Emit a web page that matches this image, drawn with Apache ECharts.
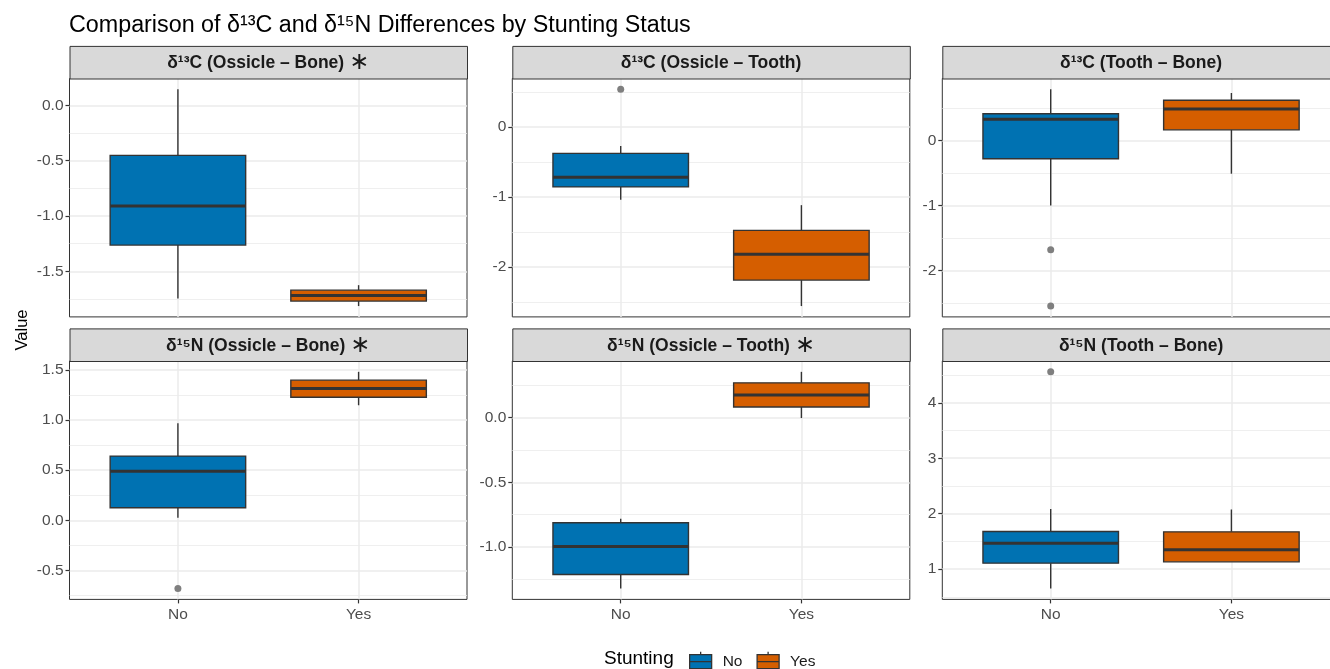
<!DOCTYPE html>
<html>
<head>
<meta charset="utf-8">
<script src="https://cdn.jsdelivr.net/npm/echarts@6/dist/echarts.min.js"></script>
<style>
html, body { margin: 0; padding: 0; background: #ffffff; }
#chart { width: 1330px; height: 669px; }
</style>
</head>
<body>
<div id="chart"></div>
<script>
// ---------------- DATA ----------------
const chartTitle = 'Comparison of δ¹³C and δ¹⁵N Differences by Stunting Status';
const yAxisTitle = 'Value';
const legendTitle = 'Stunting';
const groups = ['No', 'Yes'];
const panelTitles = [
  'δ¹³C (Ossicle – Bone)', 'δ¹³C (Ossicle – Tooth)', 'δ¹³C (Tooth – Bone)',
  'δ¹⁵N (Ossicle – Bone)', 'δ¹⁵N (Ossicle – Tooth)', 'δ¹⁵N (Tooth – Bone)'
];
const significant = [true, false, false, true, true, false];

// box summaries: [lower whisker, Q1, median, Q3, upper whisker]
const c13OssBoneNo    = [-1.745, -1.263, -0.910, -0.452,  0.145];
const c13OssBoneYes   = [-1.814, -1.769, -1.718, -1.670, -1.625];
const c13OssToothNo   = [-1.038, -0.853, -0.716, -0.374, -0.270];
const c13OssToothYes  = [-2.556, -2.185, -1.816, -1.474, -1.114];
const c13ToothBoneNo  = [-1.003, -0.282,  0.327,  0.410,  0.787];
const c13ToothBoneYes = [-0.512,  0.163,  0.486,  0.618,  0.731];
const n15OssBoneNo    = [ 0.027,  0.126,  0.488,  0.640,  0.968];
const n15OssBoneYes   = [ 1.147,  1.227,  1.313,  1.397,  1.480];
const n15OssToothNo   = [-1.319, -1.211, -0.995, -0.812, -0.781];
const n15OssToothYes  = [-0.005,  0.080,  0.173,  0.266,  0.351];
const n15ToothBoneNo  = [ 0.650,  1.108,  1.469,  1.679,  2.083];
const n15ToothBoneYes = [ 1.132,  1.132,  1.348,  1.673,  2.076];

// outliers (group "No" only)
const c13OssBoneOut   = [];
const c13OssToothOut  = [0.541];
const c13ToothBoneOut = [-1.682, -2.550];
const n15OssBoneOut   = [-0.680];
const n15OssToothOut  = [];
const n15ToothBoneOut = [4.558];

// y tick labels per panel
const c13OssBoneTicks   = [-1.5, -1.0, -0.5, 0.0];
const c13OssToothTicks  = [-2, -1, 0];
const c13ToothBoneTicks = [-2, -1, 0];
const n15OssBoneTicks   = [-0.5, 0.0, 0.5, 1.0, 1.5];
const n15OssToothTicks  = [-1.0, -0.5, 0.0];
const n15ToothBoneTicks = [1, 2, 3, 4];

// ---------------- STYLE / LAYOUT ----------------
const FONT = '"Liberation Sans", Arial, Helvetica, sans-serif';
const fills = ['#0072B2', '#D55E00'];
const lineCol = '#333333';
const gridCol = '#EBEBEB';
const colLeft = [69.5, 512.3, 942.3];
const colWidth = 397.5;
const rowTop = [78.5, 361];
const rowHeight = 238.4;
const stripH = 32.6;
const boxWidth = 0.75;

const panels = [
  { no: c13OssBoneNo,   yes: c13OssBoneYes,   out: c13OssBoneOut,   ticks: c13OssBoneTicks,   step: 0.5, digits: 1 },
  { no: c13OssToothNo,  yes: c13OssToothYes,  out: c13OssToothOut,  ticks: c13OssToothTicks,  step: 1,   digits: 0 },
  { no: c13ToothBoneNo, yes: c13ToothBoneYes, out: c13ToothBoneOut, ticks: c13ToothBoneTicks, step: 1,   digits: 0 },
  { no: n15OssBoneNo,   yes: n15OssBoneYes,   out: n15OssBoneOut,   ticks: n15OssBoneTicks,   step: 0.5, digits: 1 },
  { no: n15OssToothNo,  yes: n15OssToothYes,  out: n15OssToothOut,  ticks: n15OssToothTicks,  step: 0.5, digits: 1 },
  { no: n15ToothBoneNo, yes: n15ToothBoneYes, out: n15ToothBoneOut, ticks: n15ToothBoneTicks, step: 1,   digits: 0 }
];

function renderBox(params, api) {
  const x = api.value(0);
  const lo = api.coord([x, api.value(1)]);
  const q1 = api.coord([x, api.value(2)]);
  const md = api.coord([x, api.value(3)]);
  const q3 = api.coord([x, api.value(4)]);
  const hi = api.coord([x, api.value(5)]);
  const w = api.size([boxWidth, 0])[0];
  const cx = md[0];
  const fill = api.visual('color');
  return {
    type: 'group',
    children: [
      { type: 'line', shape: { x1: cx, y1: hi[1], x2: cx, y2: q3[1] }, style: { stroke: lineCol, lineWidth: 1.4 } },
      { type: 'line', shape: { x1: cx, y1: q1[1], x2: cx, y2: lo[1] }, style: { stroke: lineCol, lineWidth: 1.4 } },
      { type: 'rect', shape: { x: cx - w / 2, y: q3[1], width: w, height: q1[1] - q3[1] }, style: { fill: fill, stroke: lineCol, lineWidth: 1.4 } },
      { type: 'line', shape: { x1: cx - w / 2, y1: md[1], x2: cx + w / 2, y2: md[1] }, style: { stroke: lineCol, lineWidth: 3 } }
    ]
  };
}

const grids = [], xAxes = [], yAxes = [], series = [], graphics = [];

panels.forEach((p, i) => {
  const row = Math.floor(i / 3), col = i % 3;
  const left = colLeft[col], top = rowTop[row];
  grids.push({
    left: left, top: top, width: colWidth, height: rowHeight,
    show: true, borderColor: lineCol, borderWidth: 1, backgroundColor: 'transparent',
    containLabel: false, outerBoundsMode: 'none'
  });
  const all = p.no.concat(p.yes, p.out);
  const lo = Math.min.apply(null, all), hi = Math.max.apply(null, all);
  const r = hi - lo;
  const bottomRow = row === 1;
  xAxes.push({
    type: 'value', gridIndex: i, min: 0.4, max: 2.6, position: 'bottom',
    axisLine: { show: false, onZero: false },
    axisTick: { show: bottomRow, customValues: [1, 2], length: 4, lineStyle: { color: lineCol, width: 1.2 } },
    axisLabel: {
      show: bottomRow, customValues: [1, 2], margin: 7,
      formatter: v => groups[Math.round(v) - 1] || '',
      color: '#4D4D4D', fontSize: 15.5, fontFamily: FONT
    },
    splitLine: { show: true, lineStyle: { color: gridCol, width: 1.5 } }
  });
  yAxes.push({
    type: 'value', gridIndex: i, position: 'left',
    min: lo - 0.05 * r, max: hi + 0.05 * r,
    minInterval: p.step, maxInterval: p.step,
    axisLine: { show: false, onZero: false },
    axisTick: { show: true, customValues: p.ticks, length: 4, lineStyle: { color: lineCol, width: 1.2 } },
    axisLabel: {
      customValues: p.ticks, margin: 6,
      formatter: v => Number(v).toFixed(p.digits),
      color: '#4D4D4D', fontSize: 15.5, fontFamily: FONT
    },
    splitLine: { show: true, lineStyle: { color: gridCol, width: 1.5 } },
    minorTick: { show: false, splitNumber: 2 },
    minorSplitLine: { show: true, lineStyle: { color: gridCol, width: 0.8 } }
  });
  [p.no, p.yes].forEach((box, g) => {
    series.push({
      type: 'custom', name: groups[g], xAxisIndex: i, yAxisIndex: i,
      renderItem: renderBox,
      itemStyle: { color: fills[g] },
      encode: { x: 0, y: [1, 2, 3, 4, 5] },
      data: [[g + 1].concat(box)],
      z: 3
    });
  });
  if (p.out.length) {
    series.push({
      type: 'scatter', name: 'outliers', xAxisIndex: i, yAxisIndex: i,
      symbolSize: 7, itemStyle: { color: '#7F7F7F', opacity: 1 },
      data: p.out.map(v => [1, v]), z: 4
    });
  }
  // facet strip
  const stripTop = top - stripH;
  graphics.push({
    type: 'rect', left: left, top: stripTop, z: 5,
    shape: { x: 0, y: 0, width: colWidth, height: stripH },
    style: { fill: '#D9D9D9', stroke: lineCol, lineWidth: 1 }
  });
  graphics.push({
    type: 'text', x: left + colWidth / 2, y: stripTop + stripH / 2 + 1, z: 6,
    style: {
      text: significant[i] ? '{t|' + panelTitles[i] + '}{s|∗}' : '{t|' + panelTitles[i] + '}',
      align: 'center', verticalAlign: 'middle',
      rich: {
        t: { fontSize: 17.5, fontWeight: 'bold', fill: '#1A1A1A', fontFamily: FONT },
        s: { fontSize: 24, fill: '#1A1A1A', fontFamily: 'DejaVu Sans', padding: [0, 0, 0, 5] }
      }
    }
  });
});

graphics.push({
  type: 'text', x: 22, y: 330, rotation: Math.PI / 2,
  style: { text: yAxisTitle, fontSize: 16.5, fill: '#000', fontFamily: FONT, align: 'center', verticalAlign: 'middle' }
});
graphics.push({
  type: 'text', x: 604, y: 659,
  style: { text: legendTitle, fontSize: 19, fill: '#000', fontFamily: FONT, align: 'left', verticalAlign: 'middle' }
});

const keyIcon = 'path://M0,3 L22,3 L22,17 L0,17 Z M0,10 L22,10 M11,0 L11,3 M11,17 L11,20';

const option = {
  animation: false,
  backgroundColor: '#ffffff',
  title: {
    text: chartTitle, left: 64, top: 9,
    textStyle: { fontSize: 23.3, fontWeight: 'normal', color: '#000', fontFamily: FONT }
  },
  legend: {
    data: groups.map((g, i) => ({
      name: g, icon: keyIcon,
      itemStyle: { color: fills[i], borderColor: lineCol, borderWidth: 1.3 }
    })),
    left: 684, top: 646, itemWidth: 22, itemHeight: 20, itemGap: 14,
    selectedMode: false,
    textStyle: { fontSize: 15.5, color: '#1A1A1A', fontFamily: FONT, padding: [0, 0, 0, 6] }
  },
  grid: grids,
  xAxis: xAxes,
  yAxis: yAxes,
  series: series,
  graphic: graphics
};

const chart = echarts.init(document.getElementById('chart'), null, { renderer: 'canvas' });
chart.setOption(option);
</script>
</body>
</html>
